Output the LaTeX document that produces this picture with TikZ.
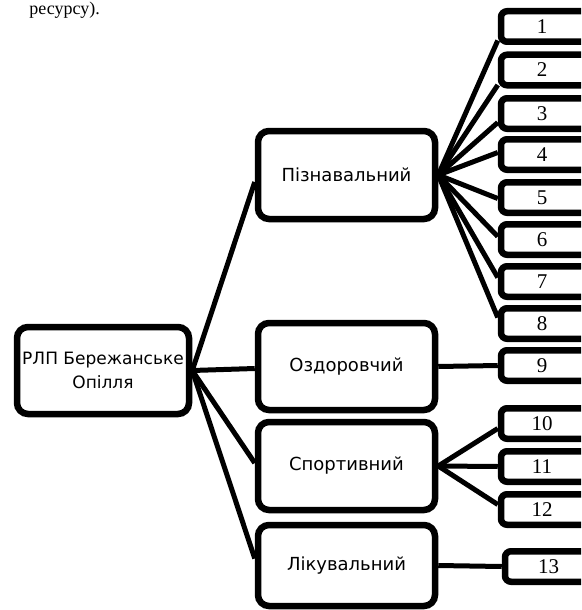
\documentclass[tikz,border=0pt]{standalone}
\usepackage{fontspec}
\setmainfont{Liberation Serif}
\newfontfamily\lbl{DejaVu Sans}
\usetikzlibrary{calc}
\begin{document}
\begin{tikzpicture}[x=1pt,y=-1pt,
  bigbox/.style={draw, line width=6.5pt, rounded corners=11pt, minimum width=177pt,
    inner sep=0pt, font=\lbl\fontsize{18}{24}\selectfont, align=center},
  numbase/.style={draw, line width=6.5pt, rounded corners=6pt, minimum height=30.5pt,
    inner sep=0pt, font=\fontsize{21}{22}\selectfont},
  numbox/.style={numbase, minimum width=91pt, execute at end node={\hspace*{9pt}}},
  link/.style={line width=5pt}]
\useasboundingbox (0,0) rectangle (581,610);
\clip (0,0) rectangle (581,610);
\node[anchor=base east, font=\fontsize{18}{22}\selectfont, inner sep=0pt] (top) at (100,15) {ресурсу).};

\node[bigbox, minimum width=172pt, minimum height=87pt, font=\lbl\fontsize{17}{24}\selectfont] (root) at (103,370.5) {РЛП Бережанське\\Опілля};
\node[bigbox, minimum height=88pt] (p) at (346.5,175) {Пізнавальний};
\node[bigbox, minimum height=87pt] (o) at (346.5,366.5) {Оздоровчий};
\node[bigbox, minimum height=88pt] (s) at (346.5,466) {Спортивний};
\node[bigbox, minimum height=81pt] (l) at (346.5,565.5) {Лікувальний};

\node[numbox] (b1) at (546.5,26.5) {1};
\node[numbox] (b2) at (546.5,70) {2};
\node[numbox] (b3) at (546.5,113.5) {3};
\node[numbox] (b4) at (546.5,154.5) {4};
\node[numbox] (b5) at (546.5,197.5) {5};
\node[numbox] (b6) at (546.5,239.5) {6};
\node[numbox] (b7) at (546.5,281.5) {7};
\node[numbox] (b8) at (546.5,323.5) {8};
\node[numbox] (b9) at (546.5,365.5) {9};
\node[numbox] (b10) at (546.5,423.5) {10};
\node[numbox] (b11) at (546.5,466.5) {11};
\node[numbox] (b12) at (546.5,509.5) {12};
\node[numbase, minimum width=87pt] (b13) at (548.5,566.5) {13};

\draw[link] (root.east) -- ($(p.west)+(0,7)$);
\draw[link] (root.east) -- ($(o.west)+(0,2)$);
\draw[link] (root.east) -- ($(s.west)+(0,-3)$);
\draw[link] (root.east) -- ($(l.west)+(0,-7)$);

\foreach \i/\d in {1/14,2/15,3/9,4/-2,5/1,6/-3,7/-4,8/-6}
  \draw[link] (p.east) -- ($(b\i.west)+(0,\d)$);
\draw[link] (o.east) -- (b9.west);
\draw[link] (s.east) -- ($(b10.west)+(0,5)$);
\draw[link] (s.east) -- (b11.west);
\draw[link] (s.east) -- ($(b12.west)+(0,-5)$);
\draw[link] (l.east) -- (b13.west);
\end{tikzpicture}
\end{document}
